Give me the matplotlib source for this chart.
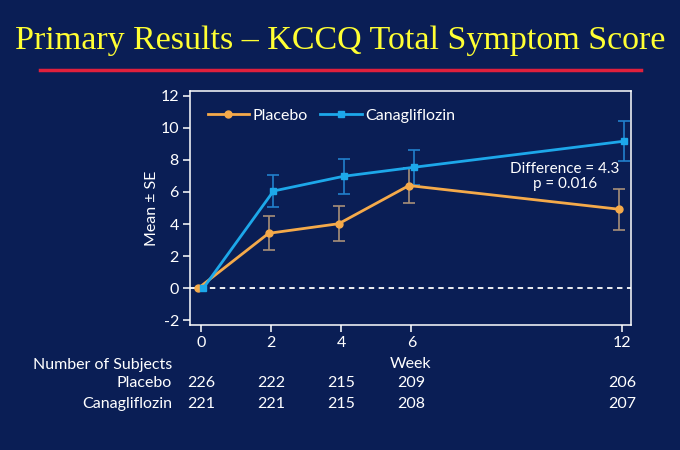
import numpy as np
import matplotlib
matplotlib.use("Agg")
import matplotlib.pyplot as plt

# values
weeks = [0, 2, 4, 6, 12]
placebo_mean = [0.0, 3.42, 4.02, 6.40, 4.92]
placebo_se = [0.0, 1.05, 1.09, 1.08, 1.27]
cana_mean = [0.0, 6.06, 6.98, 7.54, 9.17]
cana_se = [0.0, 1.02, 1.10, 1.09, 1.25]
n_placebo = [226, 222, 215, 209, 206]
n_cana = [221, 221, 215, 208, 207]
yticks = [-2, 0, 2, 4, 6, 8, 10, 12]

bg = "#0A1E55"
orange = "#F5AA4A"
blue = "#1DA8EA"
fs = 11.5

plt.rcParams["font.family"] = "Lato"
plt.rcParams["text.color"] = "white"
plt.rcParams["axes.unicode_minus"] = False

fig = plt.figure(figsize=(6.8, 4.5), dpi=100, facecolor=bg)
ax = fig.add_axes([190 / 680, 1 - 325 / 450, 441 / 680, 234 / 450])
ax.set_facecolor(bg)

# title + red rule
fig.text(0.5, 1 - 41 / 450, "Primary Results \u2013 KCCQ Total Symptom Score",
         family="Liberation Serif", color="#FFFF33", fontsize=24.5,
         ha="center", va="center")
fig.add_artist(plt.Line2D([40 / 680, 641 / 680], [1 - 70 / 450] * 2,
                          color="#E0203C", lw=2.5))

# zero reference line
ax.axhline(0, color="white", lw=1.3, ls=(0, (3, 2.5)), zorder=1)

dodge = 0.07
xp = np.array(weeks) - dodge
xc = np.array(weeks) + dodge

ax.errorbar(xp[1:], placebo_mean[1:], yerr=placebo_se[1:], fmt="none",
            ecolor="#A89078", elinewidth=1.2, capsize=4, capthick=1.2, zorder=2)
ax.errorbar(xc[1:], cana_mean[1:], yerr=cana_se[1:], fmt="none",
            ecolor="#2280CC", elinewidth=1.2, capsize=4, capthick=1.2, zorder=2)
ax.plot(xp, placebo_mean, color=orange, lw=2, marker="o", ms=5,
        label="Placebo", zorder=3)
ax.plot(xc, cana_mean, color=blue, lw=2, marker="s", ms=4.5,
        label="Canagliflozin", zorder=4)

ax.set_xlim(-0.31, 12.26)
ax.set_ylim(-2.3, 12.3)
ax.set_xticks(weeks)
ax.set_yticks(yticks)
ax.tick_params(colors="white", labelcolor="white", labelsize=fs,
               length=5, width=1.1, direction="out", pad=3)
for s in ax.spines.values():
    s.set_color("white")
    s.set_linewidth(1.1)

ax.set_xlabel("Week", color="white", fontsize=fs, labelpad=5)
ax.set_ylabel("Mean \u00b1 SE", color="white", fontsize=fs, labelpad=1)

leg = ax.legend(loc="upper left", ncol=2, frameon=False, fontsize=fs,
                handlelength=2.6, handletextpad=0.2, columnspacing=0.8,
                borderaxespad=0.7, labelcolor="white")

ax.text(10.38, 6.95, "Difference = 4.3\np = 0.016", ha="center", va="center",
        fontsize=11, color="white", linespacing=1.05)

# number of subjects table
tr = ax.get_xaxis_transform()
fig.text(172 / 680, 1 - 365 / 450, "Number of Subjects", ha="right",
         va="center", fontsize=fs)
fig.text(172 / 680, 1 - 383 / 450, "Placebo", ha="right", va="center",
         fontsize=fs)
fig.text(172 / 680, 1 - 404 / 450, "Canagliflozin", ha="right", va="center",
         fontsize=fs)
for w, a, b in zip(weeks, n_placebo, n_cana):
    ax.text(w, (325 - 383) / 234, str(a), transform=tr, ha="center",
            va="center", fontsize=fs)
    ax.text(w, (325 - 404) / 234, str(b), transform=tr, ha="center",
            va="center", fontsize=fs)

fig.savefig("out.png", dpi=100, facecolor=bg)
